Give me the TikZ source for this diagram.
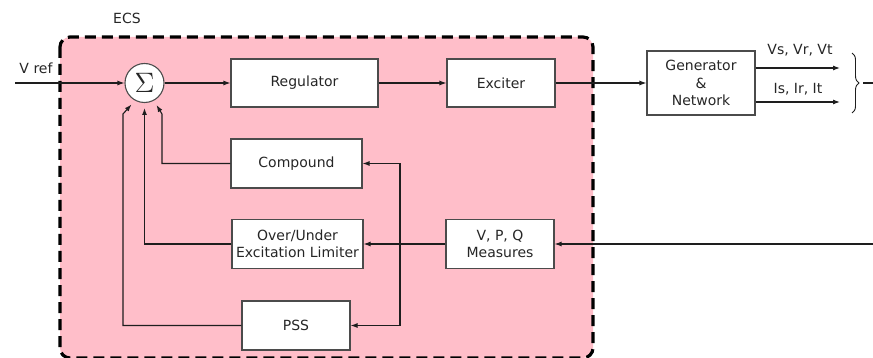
\documentclass[tikz,border=0pt]{standalone}
\usepackage{fontspec}
\setmainfont{DejaVu Sans}
\usetikzlibrary{arrows.meta,decorations.pathreplacing}
\definecolor{ecspink}{RGB}{255,190,201}
\definecolor{boxline}{RGB}{75,75,75}
\definecolor{wire}{RGB}{30,30,30}
\begin{document}
\begin{tikzpicture}[x=1pt,y=-1pt,
  font=\fontsize{14}{17.5}\selectfont,
  blk/.style={draw=boxline,line width=1.1pt,fill=white,inner sep=0pt,
    align=center,text=black!85},
  conn/.style={line width=1.1pt,draw=wire,-{Latex[length=7pt,width=5pt]}},
  wireline/.style={line width=1.1pt,draw=wire},
  ecsbox/.style={draw=black,fill=ecspink,line width=3.2pt,
    dash pattern=on 11pt off 6pt,rounded corners=10pt},
  lbl/.style={text=black!85,inner sep=0pt}]
\useasboundingbox (0,0) rectangle (873,358);

% excitation control system enclosure
\path[ecsbox] (60,37) rectangle (593,358);
\node[lbl] (ecs) at (127,18) {ECS};

% forward path
\node[blk,circle,minimum size=39pt] (sum) at (144.5,83)
  {\scalebox{1.95}{$\Sigma$}};
\node[blk,minimum width=147pt,minimum height=48pt] (reg) at (304.5,83) {Regulator};
\node[blk,minimum width=108pt,minimum height=48pt] (exc) at (501,83) {Exciter};
\node[blk,minimum width=108pt,minimum height=64pt] (gen) at (701,83)
  {Generator\\\&\\Network};

% feedback blocks
\node[blk,minimum width=131pt,minimum height=49pt] (comp) at (296.5,163.5) {Compound};
\node[blk,minimum width=131pt,minimum height=49pt] (oel) at (297.5,244)
  {Over/Under\\Excitation Limiter};
\node[blk,minimum width=108pt,minimum height=49pt] (pss) at (296,325.5) {PSS};
\node[blk,minimum width=108pt,minimum height=49pt] (meas) at (500,244)
  {V, P, Q\\Measures};

% reference input
\coordinate (vin) at (15,83);
\node[lbl] (vref) at (36,68) {V ref};
\draw[conn] (vin) -- (sum.west);
\draw[conn] (sum.east) -- (reg.west);
\draw[conn] (reg.east) -- (exc.west);
\draw[conn] (exc.east) -- (gen.west);

% generator outputs
\coordinate (vout) at (840,68);
\coordinate (iout) at (840,102);
\draw[conn] (gen.east |- vout) -- (vout);
\draw[conn] (gen.east |- iout) -- (iout);
\node[lbl] (vlab) at (800,50) {Vs, Vr, Vt};
\node[lbl] (ilab) at (798,89) {Is, Ir, It};
\coordinate (braceTop) at (852,53);
\coordinate (braceBot) at (852,113);
\draw[wireline,line width=0.9pt,decorate,decoration={brace,amplitude=7pt}]
  (braceTop) -- (braceBot);
\coordinate (dashA) at (863,83);
\coordinate (dashB) at (873,83);
\draw[wireline] (dashA) -- (dashB);

% measured quantities
\coordinate (measin) at (873,244);
\draw[conn] (measin) -- (meas.east);
\draw[conn] (meas.west) -- (oel.east);
\coordinate (split) at (400,244);
\draw[conn] (split) |- (comp.east);
\draw[conn] (split) |- (pss.east);

% feedback into the summing junction
\coordinate (bendC) at (162,114);
\coordinate (tipC) at (156.5,105);
\draw[conn] (comp.west) -| (bendC) -- (tipC);
\coordinate (tipO) at (144.5,108);
\draw[conn] (oel.west) -| (tipO);
\coordinate (bendP) at (123,114);
\coordinate (tipP) at (131.5,104.5);
\draw[conn] (pss.west) -| (bendP) -- (tipP);
\end{tikzpicture}
\end{document}
